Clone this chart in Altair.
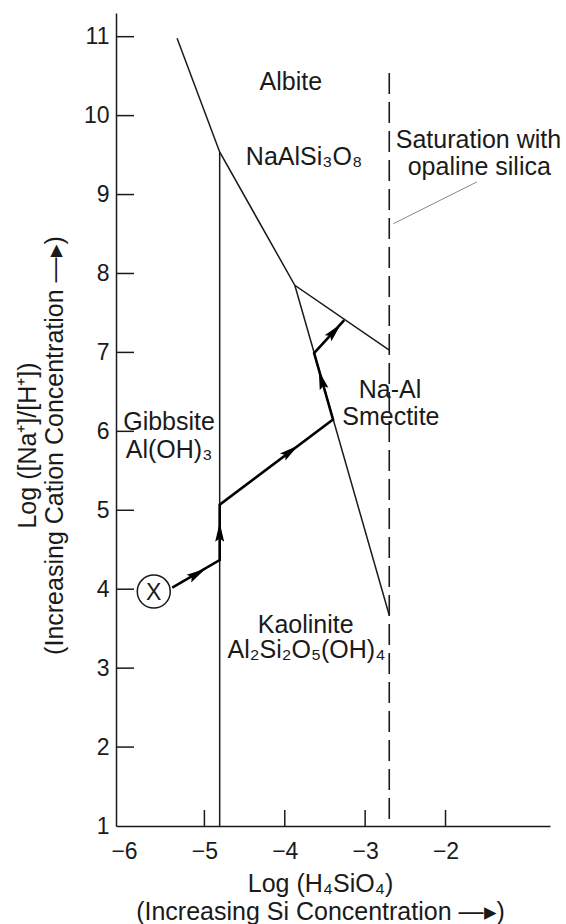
import math
import altair as alt
import pandas as pd

FONT = "Liberation Sans"
INK = "#1a1a1a"

# ---- axes ----
x_domain = [-6.1, -0.7]
y_domain = [1.0, 11.3]
x_label_values = [-6, -5, -4, -3, -2]
x_tick_values = [-5, -4, -3, -2]
y_label_values = [1, 2, 3, 4, 5, 6, 7, 8, 9, 10, 11]
y_tick_values = [2, 3, 4, 5, 6, 7, 8, 9, 10, 11]

# ---- phase boundaries (log H4SiO4, log Na/H) ----
albite_x = [-5.34, -4.81, -3.875, -2.70]
albite_y = [10.98, 9.54, 7.85, 7.03]
kaol_smec_x = [-3.875, -2.70]
kaol_smec_y = [7.85, 3.67]
gibb_kaol_x = [-4.81, -4.81]
gibb_kaol_y = [9.54, 1.0]
opal_x = [-2.70, -2.70]
opal_y = [10.54, 1.0]
leader_x = [-1.61, -2.65]
leader_y = [9.16, 8.63]

# ---- weathering path ----
path_x = [-5.40, -4.81, -4.81, -3.40, -3.635, -3.26]
path_y = [4.02, 4.37, 5.07, 6.15, 6.99, 7.41]
arrow_x = [-5.10, -4.81, -3.94, -3.54, -3.39]
arrow_y = [4.19, 4.71, 5.74, 6.64, 7.26]
arrow_seg = [0, 1, 2, 3, 4]

start_x = [-5.63]
start_y = [3.97]
start_text = ["X"]

# ---- labels ----
label_text = ["Albite", "NaAlSi₃O₈", "Saturation with", "opaline silica",
              "Gibbsite", "Al(OH)₃", "Na-Al", "Smectite",
              "Kaolinite", "Al₂Si₂O₅(OH)₄"]
label_x = [-3.925, -3.76, -1.59, -1.58, -5.44, -5.44, -2.69, -2.68, -3.74, -3.73]
label_y = [10.32, 9.38, 9.59, 9.25, 6.02, 5.66, 6.42, 6.08, 3.45, 3.13]

x_title = ["Log (H₄SiO₄)", "(Increasing Si Concentration —▸)"]
y_title = ["Log ([Na⁺]/[H⁺])", "(Increasing Cation Concentration —▸)"]

W, H = 434, 813
px_x = W / (x_domain[1] - x_domain[0])
px_y = H / (y_domain[1] - y_domain[0])


def lines_df(named):
    rows = []
    for name, xs_, ys_ in named:
        for i, (a, b) in enumerate(zip(xs_, ys_)):
            rows.append({"x": a, "y": b, "line": name, "order": i})
    return pd.DataFrame(rows)


solid_df = lines_df([("albite", albite_x, albite_y),
                     ("kaol_smec", kaol_smec_x, kaol_smec_y),
                     ("gibb_kaol", gibb_kaol_x, gibb_kaol_y)])
opal_df = lines_df([("opal", opal_x, opal_y)])
leader_df = lines_df([("leader", leader_x, leader_y)])
path_df = lines_df([("path", path_x, path_y)])

angles = []
for s in arrow_seg:
    dx = (path_x[s + 1] - path_x[s]) * px_x
    dy = (path_y[s + 1] - path_y[s]) * px_y
    angles.append(math.degrees(math.atan2(dx, dy)) % 360)
arrow_df = pd.DataFrame({"x": arrow_x, "y": arrow_y, "angle": angles})
start_df = pd.DataFrame({"x": start_x, "y": start_y, "t": start_text})
label_df = pd.DataFrame({"x": label_x, "y": label_y, "t": label_text})
xtick_df = pd.DataFrame({"x": x_tick_values})
ytick_df = pd.DataFrame({"y": y_tick_values})

xs = alt.Scale(domain=x_domain, nice=False, zero=False)
ys = alt.Scale(domain=y_domain, nice=False, zero=False)

x_axis = alt.Axis(
    values=x_label_values, format="d", ticks=False, grid=False,
    domainColor=INK, domainWidth=1.5, labelFlush=False, labelOverlap=False,
    labelFont=FONT, labelFontSize=23, labelColor=INK, labelPadding=14,
    title=x_title,
    titleFont=FONT, titleFontSize=25, titleFontWeight="normal", titleColor=INK,
    titleLineHeight=28, titleX=204, titleY=45, titleAlign="center",
    titleBaseline="top", titleAngle=0,
)
y_axis = alt.Axis(
    values=y_label_values, format="d", ticks=False, grid=False,
    domainColor=INK, domainWidth=1.5, labelFlush=False, labelOverlap=False,
    labelFont=FONT, labelFontSize=23, labelColor=INK, labelPadding=7,
    title=y_title,
    titleFont=FONT, titleFontSize=25, titleFontWeight="normal", titleColor=INK,
    titleLineHeight=27, titleX=-76, titleY=432, titleAlign="center",
    titleBaseline="bottom", titleAngle=270,
)

X = alt.X("x:Q", scale=xs, axis=x_axis)
Y = alt.Y("y:Q", scale=ys, axis=y_axis)

solid = alt.Chart(solid_df).mark_line(color=INK, strokeWidth=1.5).encode(
    x=X, y=Y, detail="line:N", order="order:Q")
opal = alt.Chart(opal_df).mark_line(color=INK, strokeWidth=1.6, strokeDash=[21, 8]).encode(
    x=X, y=Y, detail="line:N", order="order:Q")
leader = alt.Chart(leader_df).mark_line(color="#888888", strokeWidth=1).encode(
    x=X, y=Y, detail="line:N", order="order:Q")
path = alt.Chart(path_df).mark_line(color="#000000", strokeWidth=2.6).encode(
    x=X, y=Y, detail="line:N", order="order:Q")
arrows = alt.Chart(arrow_df).mark_point(
    shape="M0,-1L0.42,0.8L0,0.5L-0.42,0.8Z", size=460, filled=True,
    color="#000000", opacity=1).encode(
    x=X, y=Y, angle=alt.Angle("angle:Q", scale=None))
start = alt.Chart(start_df).mark_point(
    shape="circle", size=1089, filled=True, fill="white", stroke=INK,
    strokeWidth=1.5, opacity=1, fillOpacity=1, strokeOpacity=1).encode(x=X, y=Y)
start_lbl = alt.Chart(start_df).mark_text(
    font=FONT, fontSize=23, color=INK, baseline="middle", align="center", dy=1).encode(
    x=X, y=Y, text="t:N")
labels = alt.Chart(label_df).mark_text(
    font=FONT, fontSize=25, color=INK, baseline="alphabetic", align="center").encode(
    x=X, y=Y, text="t:N")
xticks = alt.Chart(xtick_df).mark_rule(color=INK, strokeWidth=1.5).encode(
    x=X, y=alt.value(H), y2=alt.value(H - 16))
yticks = alt.Chart(ytick_df).mark_rule(color=INK, strokeWidth=1.5).encode(
    y=Y, x=alt.value(0), x2=alt.value(18))

chart = alt.layer(
    solid, opal, leader, xticks, yticks, path, arrows, start, start_lbl, labels
).properties(
    width=W, height=H,
    autosize=alt.AutoSizeParams(type="none"),
    padding={"left": 116, "top": 13, "right": 16, "bottom": 98},
    background="white",
).configure_view(stroke=None)

chart.save("out.html", embed_options={"renderer": "svg", "actions": False})
